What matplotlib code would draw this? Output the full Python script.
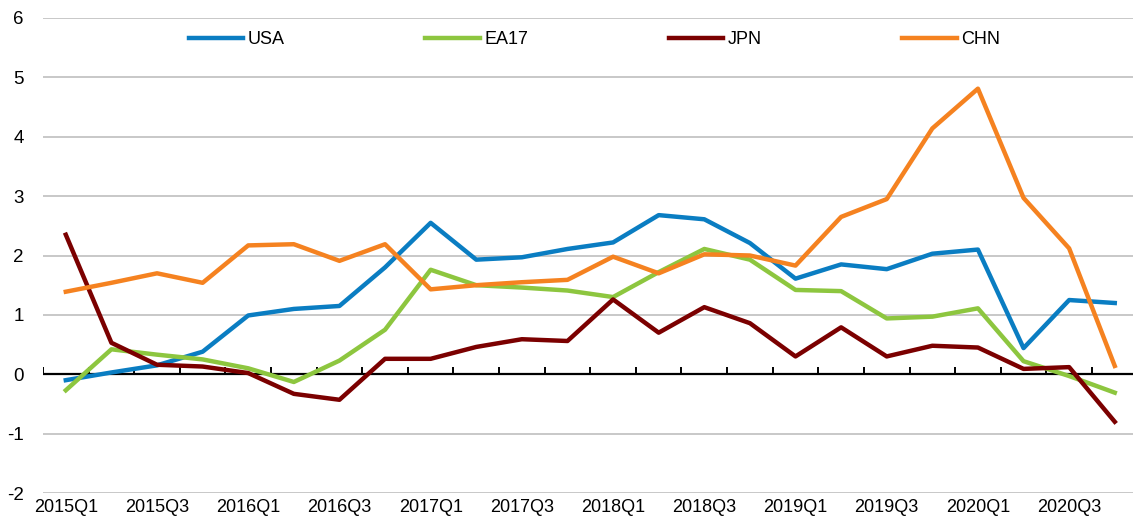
import numpy as np
import matplotlib
matplotlib.use("Agg")
import matplotlib.pyplot as plt

quarters = [f"{y}Q{q}" for y in range(2015, 2021) for q in range(1, 5)]

usa = [-0.10, 0.03, 0.15, 0.38, 0.99, 1.10, 1.15, 1.80, 2.55, 1.93, 1.97, 2.11,
       2.22, 2.68, 2.61, 2.21, 1.61, 1.85, 1.77, 2.03, 2.10, 0.44, 1.25, 1.20]
ea17 = [-0.27, 0.42, 0.33, 0.25, 0.10, -0.13, 0.23, 0.75, 1.76, 1.50, 1.46, 1.41,
        1.30, 1.72, 2.11, 1.93, 1.42, 1.40, 0.94, 0.97, 1.11, 0.22, -0.03, -0.31]
jpn = [2.35, 0.53, 0.16, 0.13, 0.02, -0.33, -0.43, 0.26, 0.26, 0.46, 0.59, 0.56,
       1.26, 0.70, 1.13, 0.86, 0.30, 0.79, 0.30, 0.48, 0.45, 0.09, 0.12, -0.80]
chn = [1.39, 1.54, 1.70, 1.54, 2.17, 2.19, 1.91, 2.19, 1.43, 1.50, 1.55, 1.59,
       1.98, 1.70, 2.02, 2.00, 1.83, 2.65, 2.95, 4.14, 4.81, 2.97, 2.12, 0.14]

series = {"USA": (usa, "#0A7DC2"), "EA17": (ea17, "#8DC63F"),
          "JPN": (jpn, "#7B0000"), "CHN": (chn, "#F58220")}

plt.rcParams["font.family"] = ["Liberation Sans", "DejaVu Sans"]
plt.rcParams["font.size"] = 13
plt.rcParams["axes.unicode_minus"] = False

fig = plt.figure(figsize=(11.33, 5.23), dpi=100)
ax = fig.add_axes([43 / 1133, 1 - 493 / 523, 1 - 43 / 1133, (493 - 18) / 523])

x = np.arange(len(quarters))
for name, (vals, col) in series.items():
    ax.plot(x, vals, color=col, lw=3.2, label=name, zorder=3)

ax.set_ylim(-2, 6)
ax.set_xlim(-0.5, 23.4)
ax.set_yticks(range(-2, 7))
ax.yaxis.grid(True, color="#C8C8C8", lw=1.4)
ax.set_axisbelow(True)
for s in ax.spines.values():
    s.set_visible(False)
ax.tick_params(axis="y", length=0, pad=14, labelsize=13.5)
ax.set_xticks(x[::2])
ax.set_xticklabels(quarters[::2])
ax.tick_params(axis="x", length=0, pad=4, labelsize=13)

# zero line with small upward ticks between quarters
ax.axhline(0, color="black", lw=1.6, zorder=2)
ax.vlines(np.arange(-0.5, 24, 1), 0, 0.13, color="black", lw=1.4, zorder=2)

ax.legend(loc="center", bbox_to_anchor=(0.506, 0.954), ncol=4, frameon=False,
          handlelength=3.0, handletextpad=0.25, columnspacing=7.8, fontsize=13)

fig.savefig("out.png", dpi=100)
